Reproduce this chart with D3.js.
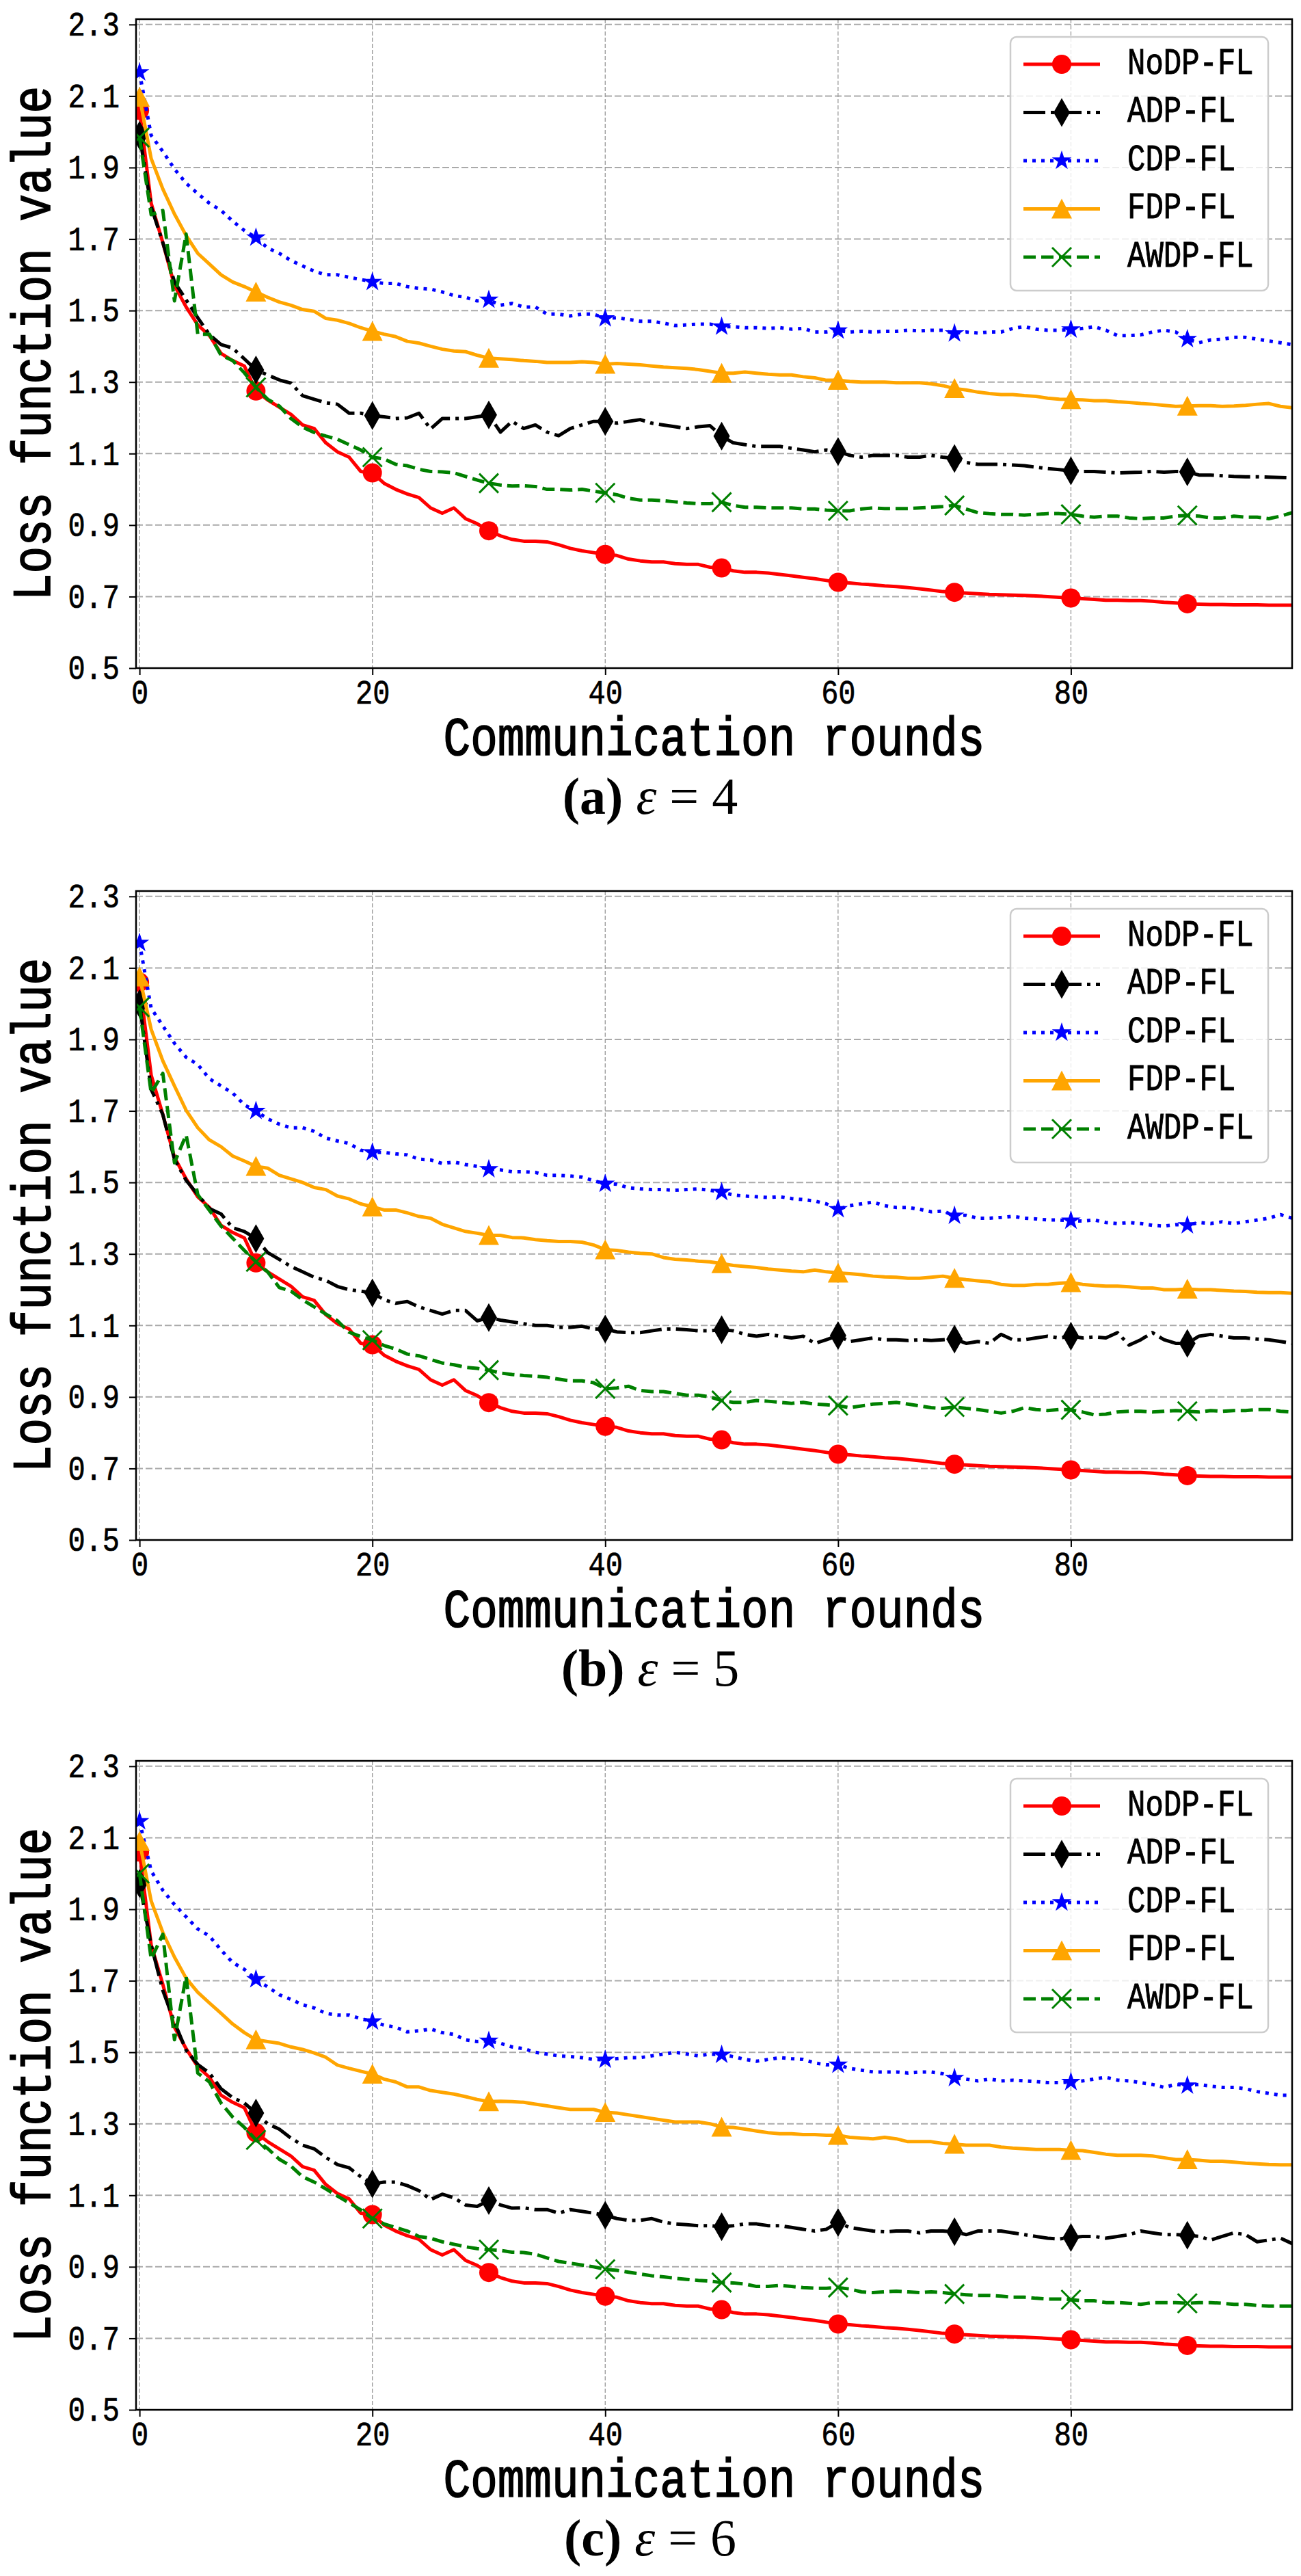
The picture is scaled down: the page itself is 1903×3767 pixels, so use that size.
<!DOCTYPE html>
<html>
<head>
<meta charset="utf-8">
<script src="https://cdn.jsdelivr.net/npm/d3@7"></script>
<style>
  body { margin: 0; background: #fff; }
  .tall { transform-box: fill-box; transform-origin: center; transform: scaleY(1.2); }
  .mono { font-family: "Liberation Mono", "DejaVu Sans Mono", monospace; fill: #000; stroke: #000; }
</style>
</head>
<body>
<svg id="fig" width="1903" height="3767"></svg>
<script>
// series names / legend order
const seriesNames = ["NoDP-FL", "ADP-FL", "CDP-FL", "FDP-FL", "AWDP-FL"];
const panelLabels = ["(a)", "(b)", "(c)"];
const epsilons = ["4", "5", "6"];
const xTicks = [0, 20, 40, 60, 80];
const yTicks = [0.5, 0.7, 0.9, 1.1, 1.3, 1.5, 1.7, 1.9, 2.1, 2.3];

// NoDP-FL does not depend on epsilon, same curve in all three panels
const noDP = [
  2.06, 1.80, 1.69, 1.57, 1.51, 1.46, 1.43, 1.38, 1.36, 1.345,
  1.275, 1.25, 1.23, 1.21, 1.18, 1.17, 1.13, 1.105, 1.09, 1.05,
  1.046, 1.017, 1.0, 0.987, 0.977, 0.948, 0.933, 0.948, 0.918, 0.904,
  0.884, 0.87, 0.86, 0.855, 0.855, 0.853, 0.845, 0.835, 0.828, 0.823,
  0.818, 0.815, 0.805, 0.80, 0.797, 0.797, 0.792, 0.79, 0.79, 0.782,
  0.78, 0.772, 0.768, 0.768, 0.766, 0.762, 0.758, 0.754, 0.75, 0.745,
  0.74, 0.738, 0.735, 0.733, 0.73, 0.728, 0.725, 0.722, 0.718, 0.714,
  0.712, 0.71, 0.708, 0.706, 0.705, 0.704, 0.703, 0.702, 0.70, 0.698,
  0.696, 0.694, 0.692, 0.69, 0.69, 0.689, 0.689, 0.687, 0.684, 0.682,
  0.68, 0.679, 0.678, 0.678, 0.677, 0.677, 0.677, 0.676, 0.676, 0.676
];

// eps = 4
const adpE4 = [
  1.99, 1.79, 1.69, 1.58, 1.53, 1.48, 1.433, 1.405, 1.395, 1.365,
  1.334, 1.32, 1.306, 1.297, 1.262, 1.252, 1.242, 1.238, 1.213, 1.213,
  1.206, 1.203, 1.198, 1.2, 1.213, 1.169, 1.198, 1.198, 1.198, 1.203,
  1.208, 1.16, 1.19, 1.17, 1.18, 1.16, 1.15, 1.17, 1.18, 1.19,
  1.19, 1.185, 1.19, 1.195, 1.185, 1.18, 1.175, 1.17, 1.175, 1.178,
  1.149, 1.13, 1.125, 1.12, 1.12, 1.12, 1.115, 1.11, 1.105, 1.11,
  1.106, 1.095, 1.09, 1.095, 1.095, 1.095, 1.09, 1.09, 1.095, 1.09,
  1.086, 1.075, 1.07, 1.07, 1.07, 1.068, 1.066, 1.062, 1.058, 1.055,
  1.052, 1.05, 1.05, 1.048, 1.046, 1.047, 1.048, 1.05, 1.048, 1.05,
  1.049, 1.04, 1.04, 1.038, 1.036, 1.035, 1.035, 1.034, 1.033, 1.032
];
const cdpE4 = [
  2.166, 1.99, 1.945, 1.896, 1.856, 1.827, 1.80, 1.78, 1.75, 1.724,
  1.704, 1.675, 1.66, 1.64, 1.625, 1.61, 1.60, 1.60, 1.593, 1.587,
  1.58, 1.576, 1.576, 1.567, 1.562, 1.56, 1.552, 1.542, 1.537, 1.527,
  1.53, 1.515, 1.52, 1.51, 1.51, 1.49, 1.49, 1.485, 1.49, 1.49,
  1.478, 1.48, 1.475, 1.47, 1.47, 1.465, 1.458, 1.46, 1.462, 1.462,
  1.455, 1.455, 1.452, 1.452, 1.45, 1.452, 1.448, 1.45, 1.44, 1.44,
  1.444, 1.44, 1.442, 1.44, 1.442, 1.442, 1.445, 1.443, 1.445, 1.445,
  1.436, 1.44, 1.437, 1.44, 1.44, 1.45, 1.455, 1.448, 1.445, 1.445,
  1.447, 1.45, 1.455, 1.445, 1.43, 1.43, 1.432, 1.44, 1.445, 1.44,
  1.42, 1.41, 1.418, 1.42, 1.425, 1.425, 1.42, 1.415, 1.41, 1.405
];
const fdpE4 = [
  2.097, 1.925, 1.84, 1.77, 1.71, 1.66, 1.63, 1.60, 1.58, 1.567,
  1.552, 1.537, 1.524, 1.515, 1.503, 1.498, 1.478, 1.473, 1.464, 1.452,
  1.442, 1.434, 1.427, 1.414, 1.409, 1.40, 1.392, 1.387, 1.385, 1.375,
  1.367, 1.365, 1.363, 1.36, 1.358, 1.355, 1.355, 1.355, 1.357, 1.355,
  1.35, 1.352, 1.35, 1.348, 1.345, 1.342, 1.34, 1.338, 1.335, 1.33,
  1.325, 1.325, 1.328, 1.325, 1.322, 1.32, 1.32, 1.315, 1.312, 1.305,
  1.305, 1.302, 1.30, 1.30, 1.30, 1.298, 1.298, 1.298, 1.295, 1.29,
  1.282, 1.278, 1.272, 1.268, 1.265, 1.265, 1.262, 1.26, 1.255, 1.252,
  1.251, 1.25, 1.248, 1.248, 1.245, 1.243, 1.24, 1.238, 1.235, 1.232,
  1.233, 1.234, 1.234, 1.232, 1.233, 1.235, 1.238, 1.24, 1.232, 1.228
];
const awdpE4 = [
  1.984, 1.768, 1.78, 1.527, 1.714, 1.434, 1.434, 1.375, 1.36, 1.326,
  1.285, 1.252, 1.233, 1.198, 1.174, 1.159, 1.149, 1.14, 1.125, 1.11,
  1.09, 1.085, 1.07, 1.066, 1.056, 1.05, 1.049, 1.046, 1.036, 1.026,
  1.017, 1.012, 1.009, 1.01, 1.008, 1.0, 1.0, 0.998, 1.0, 0.995,
  0.99, 0.985, 0.975, 0.97, 0.97, 0.968, 0.965, 0.962, 0.96, 0.96,
  0.964, 0.955, 0.95, 0.95, 0.948, 0.948, 0.948, 0.945, 0.945, 0.942,
  0.94, 0.94, 0.945, 0.948, 0.946, 0.946, 0.946, 0.948, 0.95, 0.952,
  0.955, 0.945, 0.935, 0.932, 0.93, 0.93, 0.928, 0.93, 0.932, 0.932,
  0.93, 0.925, 0.922, 0.925, 0.925, 0.92, 0.918, 0.92, 0.92, 0.925,
  0.927, 0.925, 0.92, 0.92, 0.925, 0.922, 0.922, 0.918, 0.925, 0.935
];

// eps = 5
const adpE5 = [
  2.0, 1.76, 1.69, 1.565, 1.506, 1.466, 1.427, 1.412, 1.373, 1.363,
  1.343, 1.304, 1.285, 1.265, 1.25, 1.235, 1.226, 1.209, 1.20, 1.196,
  1.191, 1.172, 1.162, 1.167, 1.152, 1.142, 1.132, 1.142, 1.142, 1.113,
  1.122, 1.115, 1.11, 1.105, 1.10, 1.10, 1.095, 1.095, 1.098, 1.09,
  1.09, 1.082, 1.08, 1.08, 1.085, 1.09, 1.09, 1.088, 1.085, 1.085,
  1.088, 1.085, 1.075, 1.07, 1.075, 1.07, 1.065, 1.07, 1.05, 1.06,
  1.072, 1.055, 1.06, 1.065, 1.06, 1.06, 1.058, 1.06, 1.058, 1.06,
  1.062, 1.05, 1.055, 1.05, 1.075, 1.06, 1.06, 1.065, 1.07, 1.065,
  1.07, 1.065, 1.068, 1.065, 1.08, 1.045, 1.06, 1.08, 1.06, 1.05,
  1.05, 1.07, 1.075, 1.07, 1.065, 1.065, 1.062, 1.06, 1.055, 1.05
];
const cdpE5 = [
  2.17, 1.987, 1.938, 1.889, 1.85, 1.83, 1.79, 1.77, 1.75, 1.717,
  1.70, 1.678, 1.663, 1.653, 1.653, 1.643, 1.624, 1.616, 1.609, 1.59,
  1.584, 1.584, 1.58, 1.577, 1.565, 1.563, 1.553, 1.557, 1.55, 1.545,
  1.537, 1.535, 1.53, 1.53, 1.528, 1.52, 1.52, 1.518, 1.515, 1.505,
  1.496, 1.495, 1.485, 1.482, 1.48, 1.48, 1.478, 1.48, 1.482, 1.478,
  1.473, 1.465, 1.462, 1.46, 1.458, 1.46, 1.455, 1.452, 1.448, 1.44,
  1.425, 1.435, 1.44, 1.445, 1.435, 1.43, 1.43, 1.425, 1.418, 1.42,
  1.407, 1.408, 1.40, 1.40, 1.402, 1.405, 1.40, 1.398, 1.395, 1.395,
  1.393, 1.392, 1.395, 1.388, 1.385, 1.388, 1.385, 1.38, 1.378, 1.382,
  1.38, 1.388, 1.385, 1.39, 1.385, 1.39, 1.395, 1.40, 1.41, 1.40
];
const fdpE5 = [
  2.075, 1.928, 1.84, 1.77, 1.702, 1.653, 1.619, 1.60, 1.574, 1.56,
  1.545, 1.54, 1.52, 1.51, 1.50, 1.486, 1.48, 1.462, 1.454, 1.44,
  1.432, 1.423, 1.423, 1.415, 1.405, 1.40, 1.383, 1.373, 1.363, 1.358,
  1.352, 1.352, 1.346, 1.345, 1.34, 1.337, 1.335, 1.335, 1.333, 1.325,
  1.312, 1.31, 1.305, 1.302, 1.30, 1.29, 1.285, 1.283, 1.28, 1.278,
  1.273, 1.268, 1.265, 1.262, 1.258, 1.255, 1.252, 1.25, 1.255, 1.25,
  1.247, 1.245, 1.242, 1.238, 1.236, 1.235, 1.232, 1.232, 1.235, 1.238,
  1.232, 1.228, 1.225, 1.222, 1.215, 1.212, 1.212, 1.215, 1.215, 1.218,
  1.22, 1.215, 1.212, 1.21, 1.21, 1.208, 1.205, 1.205, 1.2, 1.2,
  1.202, 1.2, 1.2, 1.198, 1.196, 1.195, 1.193, 1.192, 1.192, 1.19
];
const awdpE5 = [
  1.99, 1.75, 1.805, 1.555, 1.633, 1.466, 1.422, 1.378, 1.344, 1.31,
  1.278, 1.25, 1.206, 1.196, 1.172, 1.152, 1.132, 1.113, 1.081, 1.069,
  1.059, 1.044, 1.034, 1.02, 1.015, 1.005, 0.995, 0.99, 0.983, 0.98,
  0.975, 0.967, 0.963, 0.96, 0.958, 0.955, 0.95, 0.945, 0.945, 0.94,
  0.923, 0.925, 0.93, 0.918, 0.915, 0.915, 0.91, 0.905, 0.905, 0.9,
  0.89, 0.885, 0.885, 0.89, 0.888, 0.885, 0.882, 0.885, 0.88, 0.878,
  0.876, 0.87, 0.875, 0.88, 0.882, 0.885, 0.88, 0.875, 0.87, 0.868,
  0.872, 0.868, 0.865, 0.86, 0.855, 0.86, 0.87, 0.865, 0.862, 0.865,
  0.864, 0.858, 0.85, 0.852, 0.858, 0.86, 0.86, 0.858, 0.86, 0.862,
  0.86, 0.858, 0.862, 0.86, 0.862, 0.862, 0.865, 0.865, 0.86, 0.858
];

// eps = 6
const adpE6 = [
  1.972, 1.80, 1.673, 1.584, 1.506, 1.466, 1.442, 1.398, 1.373, 1.358,
  1.33, 1.30, 1.285, 1.26, 1.24, 1.23, 1.206, 1.186, 1.177, 1.152,
  1.132, 1.137, 1.137, 1.127, 1.113, 1.088, 1.103, 1.093, 1.073, 1.069,
  1.085, 1.073, 1.064, 1.065, 1.06, 1.06, 1.05, 1.06, 1.055, 1.05,
  1.044, 1.035, 1.03, 1.03, 1.035, 1.025, 1.02, 1.018, 1.015, 1.015,
  1.012, 1.015, 1.02, 1.02, 1.015, 1.015, 1.01, 1.005, 1.0, 1.005,
  1.024, 1.01, 1.005, 1.0, 0.998, 1.0, 1.0, 0.995, 1.0, 1.0,
  0.998, 0.99, 1.0, 1.0, 1.0, 0.995, 0.99, 0.985, 0.98, 0.978,
  0.982, 0.985, 0.985, 0.98, 0.985, 0.99, 1.0, 0.995, 0.99, 0.99,
  0.988, 0.985, 0.975, 0.985, 0.995, 0.99, 0.97, 0.975, 0.98, 0.965
];
const cdpE6 = [
  2.146, 2.007, 1.953, 1.913, 1.879, 1.845, 1.825, 1.786, 1.751, 1.732,
  1.704, 1.683, 1.661, 1.648, 1.633, 1.624, 1.609, 1.604, 1.604, 1.594,
  1.586, 1.576, 1.57, 1.557, 1.56, 1.565, 1.555, 1.55, 1.535, 1.53,
  1.532, 1.525, 1.515, 1.51, 1.50, 1.495, 1.49, 1.488, 1.485, 1.48,
  1.479, 1.482, 1.485, 1.485, 1.49, 1.495, 1.50, 1.495, 1.49, 1.495,
  1.493, 1.488, 1.48, 1.475, 1.48, 1.485, 1.482, 1.48, 1.47, 1.465,
  1.465, 1.455, 1.45, 1.445, 1.445, 1.445, 1.442, 1.445, 1.445, 1.44,
  1.428, 1.425, 1.42, 1.425, 1.42, 1.422, 1.42, 1.418, 1.415, 1.415,
  1.417, 1.42, 1.425, 1.43, 1.422, 1.42, 1.415, 1.41, 1.402, 1.41,
  1.407, 1.41, 1.405, 1.402, 1.402, 1.398, 1.39, 1.385, 1.38, 1.38
];
const fdpE6 = [
  2.09, 1.923, 1.835, 1.766, 1.707, 1.668, 1.638, 1.609, 1.579, 1.555,
  1.535, 1.53, 1.525, 1.515, 1.508, 1.498, 1.486, 1.464, 1.455, 1.447,
  1.439, 1.425, 1.417, 1.403, 1.403, 1.393, 1.388, 1.383, 1.376, 1.368,
  1.362, 1.363, 1.362, 1.36, 1.355, 1.35, 1.345, 1.34, 1.34, 1.34,
  1.332, 1.33, 1.325, 1.32, 1.315, 1.31, 1.305, 1.305, 1.305, 1.30,
  1.291, 1.29, 1.285, 1.28, 1.275, 1.272, 1.272, 1.27, 1.27, 1.268,
  1.268, 1.262, 1.26, 1.258, 1.262, 1.258, 1.25, 1.25, 1.25, 1.245,
  1.243, 1.24, 1.24, 1.24, 1.235, 1.232, 1.23, 1.228, 1.228, 1.228,
  1.226, 1.225, 1.22, 1.215, 1.212, 1.212, 1.212, 1.21, 1.205, 1.20,
  1.20, 1.198, 1.195, 1.195, 1.193, 1.19, 1.188, 1.186, 1.185, 1.185
];
const awdpE6 = [
  2.0, 1.761, 1.83, 1.535, 1.712, 1.442, 1.417, 1.358, 1.319, 1.29,
  1.255, 1.231, 1.201, 1.182, 1.152, 1.137, 1.118, 1.098, 1.079, 1.059,
  1.035, 1.02, 1.01, 1.0, 0.985, 0.98, 0.97, 0.963, 0.956, 0.951,
  0.948, 0.946, 0.941, 0.94, 0.935, 0.925, 0.915, 0.91, 0.905, 0.90,
  0.893, 0.89, 0.885, 0.88, 0.875, 0.872, 0.868, 0.865, 0.862, 0.86,
  0.856, 0.855, 0.852, 0.845, 0.845, 0.848, 0.845, 0.842, 0.84, 0.84,
  0.842, 0.838, 0.83, 0.828, 0.83, 0.832, 0.83, 0.828, 0.83, 0.828,
  0.824, 0.822, 0.82, 0.82, 0.818, 0.815, 0.815, 0.812, 0.81, 0.81,
  0.808, 0.805, 0.805, 0.80, 0.80, 0.798, 0.795, 0.80, 0.80, 0.80,
  0.798, 0.80, 0.80, 0.798, 0.795, 0.795, 0.792, 0.79, 0.79, 0.79
];

const panels = [
  [noDP, adpE4, cdpE4, fdpE4, awdpE4],
  [noDP, adpE5, cdpE5, fdpE5, awdpE5],
  [noDP, adpE6, cdpE6, fdpE6, awdpE6]
];

// look of each series, matplotlib style
const styles = [
  { color: "#ff0000", dash: null, marker: "o" },
  { color: "#000000", dash: "32,8,5,8", marker: "d" },
  { color: "#0000ff", dash: "5,8", marker: "*" },
  { color: "#ffa500", dash: null, marker: "^" },
  { color: "#008000", dash: "18,8", marker: "x" }
];

const svg = d3.select("#fig");
svg.append("rect").attr("width", 1903).attr("height", 3767).attr("fill", "#fff");

const panelTop = [0, 1275, 2547];
const plotL = 199, plotR = 1890;
const x = d3.scaleLinear().domain([-0.3, 99]).range([plotL, plotR]);

function starPath(ro) {
  let ri = ro * 0.382, pts = [];
  for (let k = 0; k < 10; k++) {
    let a = -Math.PI / 2 + k * Math.PI / 5, r = k % 2 ? ri : ro;
    pts.push([r * Math.cos(a), r * Math.sin(a)]);
  }
  return "M" + pts.map(p => p.join(",")).join("L") + "Z";
}

function drawMarker(g, kind, color) {
  if (kind === "o") {
    g.append("circle").attr("r", 14).attr("fill", color);
  } else if (kind === "d") {
    g.append("path").attr("d", "M0,-21L12,0L0,21L-12,0Z").attr("fill", color);
  } else if (kind === "*") {
    g.append("path").attr("d", starPath(15)).attr("fill", color);
  } else if (kind === "^") {
    g.append("path").attr("d", "M0,-15L15,14L-15,14Z").attr("fill", color);
  } else {
    g.append("path").attr("d", "M-14,-14L14,14M-14,14L14,-14")
      .attr("stroke", color).attr("stroke-width", 3).attr("fill", "none");
  }
}

panels.forEach(function(series, p) {
  let top = panelTop[p];
  let y = d3.scaleLinear().domain([0.5, 2.315]).range([top + 977, top + 28]);
  let g = svg.append("g");

  g.append("clipPath").attr("id", "clip" + p)
    .append("rect").attr("x", plotL).attr("y", top + 28)
    .attr("width", plotR - plotL).attr("height", 949);

  // grid
  g.selectAll(".hg").data(yTicks).enter().append("line")
    .attr("x1", plotL).attr("x2", plotR)
    .attr("y1", d => y(d)).attr("y2", d => y(d))
    .attr("stroke", "#aaaaaa").attr("stroke-width", 2).attr("stroke-dasharray", "10,4");
  g.selectAll(".vg").data(xTicks).enter().append("line")
    .attr("x1", d => x(d)).attr("x2", d => x(d))
    .attr("y1", top + 28).attr("y2", top + 977)
    .attr("stroke", "#999").attr("stroke-width", 1.3).attr("stroke-dasharray", "6,3");

  let line = d3.line().x((d, i) => x(i)).y(d => y(d));
  let plot = g.append("g").attr("clip-path", "url(#clip" + p + ")");
  series.forEach(function(vals, s) {
    let st = styles[s];
    plot.append("path").datum(vals)
      .attr("d", line)
      .attr("fill", "none")
      .attr("stroke", st.color)
      .attr("stroke-width", 5)
      .attr("stroke-linejoin", "round")
      .attr("stroke-dasharray", st.dash);
    vals.forEach(function(v, i) {
      if (i % 10 !== 0) return;
      let m = plot.append("g").attr("transform", "translate(" + x(i) + "," + y(v) + ")");
      drawMarker(m, st.marker, st.color);
    });
  });

  // spines
  g.append("rect").attr("x", plotL).attr("y", top + 28)
    .attr("width", plotR - plotL).attr("height", 949)
    .attr("fill", "none").attr("stroke", "#000").attr("stroke-width", 2.5);

  let yAxis = g.append("g").attr("transform", "translate(" + plotL + ",0)")
    .call(d3.axisLeft(y).tickValues(yTicks).tickFormat(d3.format(".1f")).tickSize(10).tickPadding(14));
  let xAxis = g.append("g").attr("transform", "translate(0," + (top + 977) + ")")
    .call(d3.axisBottom(x).tickValues(xTicks).tickSize(10).tickPadding(10));
  [yAxis, xAxis].forEach(function(a) {
    a.select(".domain").remove();
    a.selectAll("line").attr("stroke", "#000").attr("stroke-width", 2);
    a.selectAll("text").attr("class", "mono tall").attr("font-size", 42)
      .attr("stroke-width", 0.6);
  });

  g.append("text").attr("class", "mono tall")
    .attr("x", (plotL + plotR) / 2).attr("y", top + 1100)
    .attr("text-anchor", "middle").attr("font-size", 66)
    .attr("stroke-width", 1.4)
    .text("Communication rounds");

  g.append("g").attr("transform", "translate(52," + (top + 502) + ") rotate(-90)")
    .append("text").attr("class", "mono tall")
    .attr("text-anchor", "middle").attr("dominant-baseline", "central")
    .attr("font-size", 66).attr("stroke-width", 1.4)
    .text("Loss function value");

  // legend
  let lg = g.append("g");
  lg.append("rect").attr("x", 1478).attr("y", top + 54)
    .attr("width", 377).attr("height", 371).attr("rx", 9)
    .attr("fill", "#fff").attr("fill-opacity", 0.8)
    .attr("stroke", "#ccc").attr("stroke-width", 2.5);
  seriesNames.forEach(function(name, s) {
    let st = styles[s], cy = top + 94 + 70.5 * s;
    lg.append("line").attr("x1", 1497).attr("x2", 1609)
      .attr("y1", cy).attr("y2", cy)
      .attr("stroke", st.color).attr("stroke-width", 5)
      .attr("stroke-dasharray", st.dash);
    drawMarker(lg.append("g").attr("transform", "translate(1553," + cy + ")"), st.marker, st.color);
    lg.append("text").attr("class", "mono tall")
      .attr("x", 1649).attr("y", cy)
      .attr("dominant-baseline", "central").attr("font-size", 44)
      .attr("stroke-width", 0.8)
      .text(name);
  });

  // caption
  let cap = g.append("text")
    .attr("x", 951).attr("y", top + 1190)
    .attr("text-anchor", "middle")
    .attr("font-family", "'Liberation Serif', 'DejaVu Serif', serif")
    .attr("font-size", 76).attr("fill", "#000");
  cap.append("tspan").attr("font-weight", "bold").text(panelLabels[p]);
  cap.append("tspan").text(" ");
  cap.append("tspan").attr("font-style", "italic").text("\u03b5");
  cap.append("tspan").text(" = " + epsilons[p]);
});
</script>
</body>
</html>
